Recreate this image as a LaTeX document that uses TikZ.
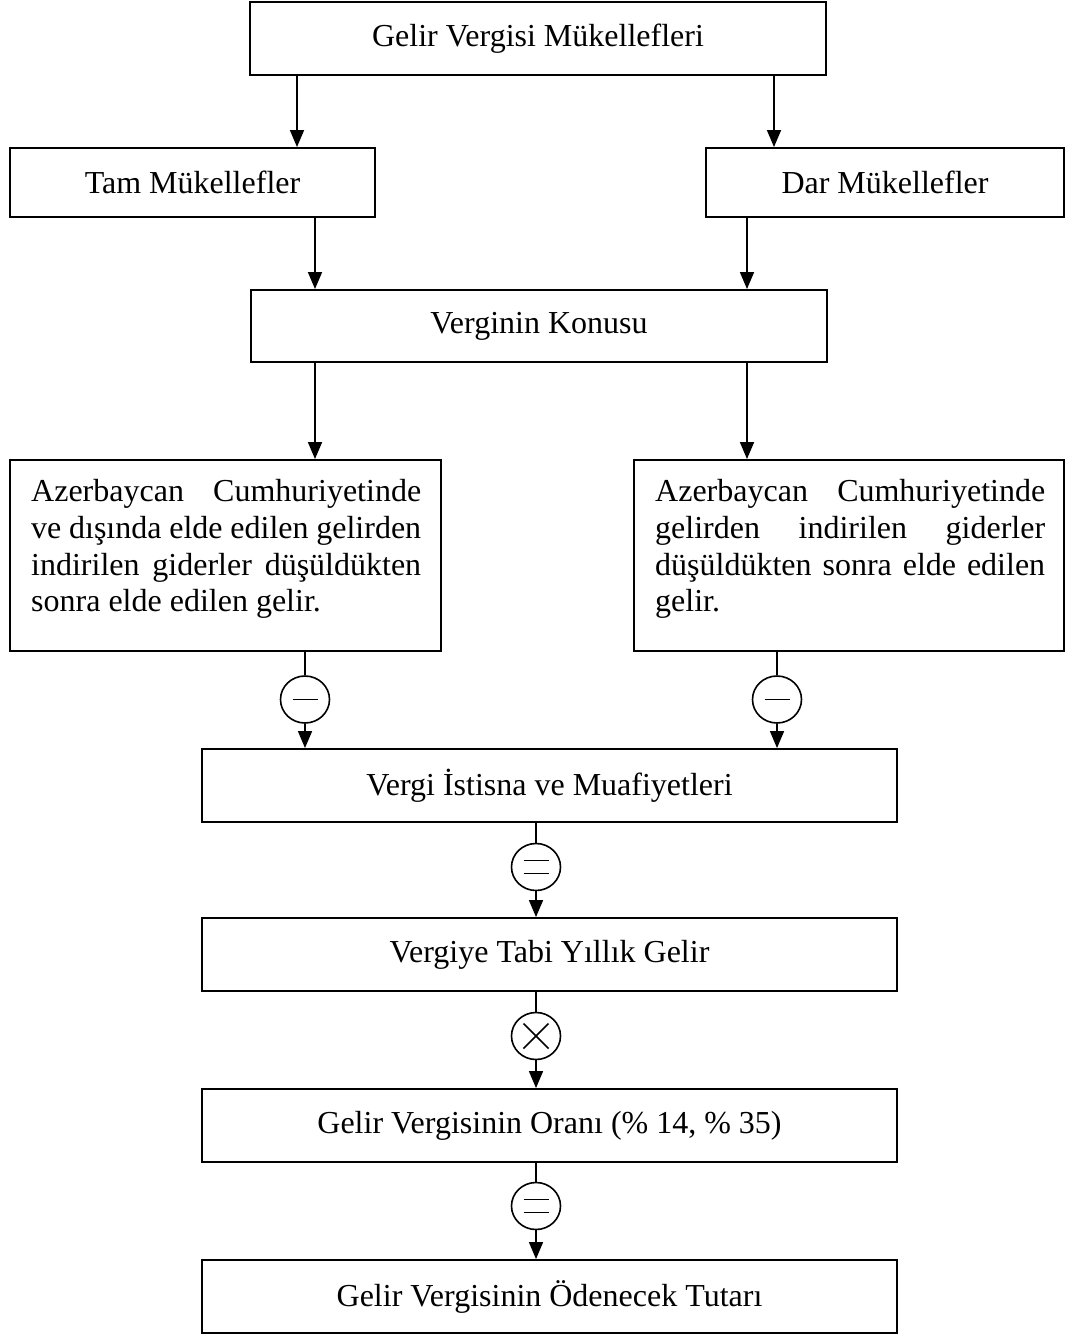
\documentclass[tikz,border=0pt]{standalone}
\usepackage{fontspec}
\setmainfont{Liberation Serif}
\usetikzlibrary{arrows.meta,shapes.geometric}

% one justified line of a fixed width: spaces stretch equally
\newcommand\jrow[1]{\hbox to 390pt{\spaceskip=0.25em plus 1fil minus 0.1em\relax #1}}

\begin{document}
\begin{tikzpicture}[x=1pt,y=-1pt,
  box/.style={draw, line width=1.9pt, rectangle, inner sep=0pt,
    font=\fontsize{32}{36.8}\selectfont},
  para/.style={anchor=north west, inner sep=0pt,
    font=\fontsize{32}{36.8}\selectfont},
  conn/.style={line width=1.6pt},
  arr/.style={conn, -{Triangle[length=17pt,width=14pt]}},
  opcirc/.style={draw, ellipse, minimum width=49pt, minimum height=47pt, inner sep=0pt, line width=1.6pt},
  opminus/.style={opcirc, path picture={
    \draw[conn] ([xshift=-12.5pt]path picture bounding box.center)
      -- ([xshift=12.5pt]path picture bounding box.center);}},
  opequal/.style={opcirc, path picture={
    \draw[conn] ([xshift=-12.5pt,yshift=6.5pt]path picture bounding box.center)
      -- ([xshift=12.5pt,yshift=6.5pt]path picture bounding box.center);
    \draw[conn] ([xshift=-12.5pt,yshift=-6.5pt]path picture bounding box.center)
      -- ([xshift=12.5pt,yshift=-6.5pt]path picture bounding box.center);}},
  optimes/.style={opcirc, path picture={
    \draw[conn] ([xshift=-12.5pt,yshift=12.5pt]path picture bounding box.center)
      -- ([xshift=12.5pt,yshift=-12.5pt]path picture bounding box.center);
    \draw[conn] ([xshift=-12.5pt,yshift=-12.5pt]path picture bounding box.center)
      -- ([xshift=12.5pt,yshift=12.5pt]path picture bounding box.center);}}
]
\useasboundingbox (0,0) rectangle (1067,1335);

% boxes
\node[box, minimum width=576pt, minimum height=73pt] (top) at (538,38.5) {Gelir Vergisi Mükellefleri};
\node[box, minimum width=365pt, minimum height=69pt] (tam) at (192.5,182.5) {Tam Mükellefler};
\node[box, minimum width=358pt, minimum height=69pt] (dar) at (885,182.5) {Dar Mükellefler};
\node[box, minimum width=576pt, minimum height=72pt] (konu) at (539,326) {Verginin Konusu};
\node[box, minimum width=431pt, minimum height=191pt] (azl) at (225.5,555.5) {};
\node[box, minimum width=430pt, minimum height=191pt] (azr) at (849,555.5) {};
\node[para] (azltext) at (31,479) {\vbox{\baselineskip=36.8pt
  \jrow{Azerbaycan Cumhuriyetinde}
  \jrow{ve dışında elde edilen gelirden}
  \jrow{indirilen giderler düşüldükten}
  \hbox{sonra elde edilen gelir.}}};
\node[para] (azrtext) at (655,479) {\vbox{\baselineskip=36.8pt
  \jrow{Azerbaycan Cumhuriyetinde}
  \jrow{gelirden indirilen giderler}
  \jrow{düşüldükten sonra elde edilen}
  \hbox{gelir.}}};
\node[box, minimum width=695pt, minimum height=73pt] (ist) at (549.5,785.5) {Vergi İstisna ve Muafiyetleri};
\node[box, minimum width=695pt, minimum height=73pt] (tabi) at (549.5,954.5) {Vergiye Tabi Yıllık Gelir};
\node[box, minimum width=695pt, minimum height=73pt] (oran) at (549.5,1125.5) {Gelir Vergisinin Oranı (\% 14, \% 35)};
\node[box, minimum width=695pt, minimum height=73pt] (oden) at (549.5,1296.5) {Gelir Vergisinin Ödenecek Tutarı};

% operator circles
\node[opminus] (mL) at (305,699.5) {};
\node[opminus] (mR) at (777,699.5) {};
\node[opequal] (eq1) at (536,867) {};
\node[optimes] (tm) at (536,1036) {};
\node[opequal] (eq2) at (536,1206) {};

% connectors in the upper part
\coordinate (a1) at ([xshift=-241pt]top.south);
\coordinate (a2) at ([xshift=236pt]top.south);
\coordinate (a3) at ([xshift=122.5pt]tam.south);
\coordinate (a4) at ([xshift=-138pt]dar.south);
\coordinate (a5) at ([xshift=-224pt]konu.south);
\coordinate (a6) at ([xshift=208pt]konu.south);
\draw[arr] (a1) -- (a1 |- tam.north);
\draw[arr] (a2) -- (a2 |- dar.north);
\draw[arr] (a3) -- (a3 |- konu.north);
\draw[arr] (a4) -- (a4 |- konu.north);
\draw[arr] (a5) -- (a5 |- azl.north);
\draw[arr] (a6) -- (a6 |- azr.north);

% connectors through the operator circles
\draw[conn] (azl.south -| mL) -- (mL.north);
\draw[arr] (mL.south) -- (mL.south |- ist.north);
\draw[conn] (azr.south -| mR) -- (mR.north);
\draw[arr] (mR.south) -- (mR.south |- ist.north);
\draw[conn] (ist.south -| eq1) -- (eq1.north);
\draw[arr] (eq1.south) -- (eq1.south |- tabi.north);
\draw[conn] (tabi.south -| tm) -- (tm.north);
\draw[arr] (tm.south) -- (tm.south |- oran.north);
\draw[conn] (oran.south -| eq2) -- (eq2.north);
\draw[arr] (eq2.south) -- (eq2.south |- oden.north);
\end{tikzpicture}
\end{document}
